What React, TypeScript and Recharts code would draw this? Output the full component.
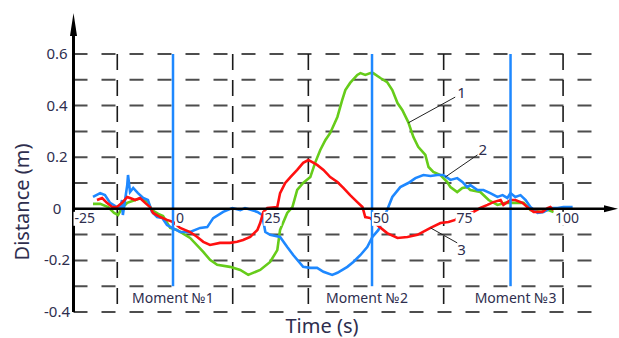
import React from 'react';
import { LineChart, Line, XAxis, YAxis, ReferenceLine, LabelList } from 'recharts';

const FONT = '"Noto Sans", "DejaVu Sans", sans-serif';
const TEXT = '#2e2e4e';
const GREEN = '#66cc1a';
const BLUE = '#1e88ff';
const RED = '#ff1010';

// Axis ranges and ticks
const timeDomain: [number, number] = [-25, 111.8];
const distanceDomain: [number, number] = [-0.4, 0.759];
const timeTicks = [-25, 0, 25, 50, 75, 100];
const distanceTicks = [-0.4, -0.2, 0, 0.2, 0.4, 0.6];
const distanceGrid = [-0.4, -0.3, -0.2, -0.1, 0.1, 0.2, 0.3, 0.4, 0.5, 0.6];
const timeGrid = [-14, 15, 34, 68, 98];
const gridRight = 106.2;

// Event markers
const momentTimes = [0, 50, 84.8];
const momentNames = ['Moment №1', 'Moment №2', 'Moment №3'];

// Curve 1 (green): [time s, distance m]
const curve1: [number, number][] = [
  [-20.1, 0.019], [-18.3, 0.019], [-16.3, 0.007], [-14.8, -0.016], [-13.8, -0.024], [-12.8, 0.003],
  [-11.5, 0.023], [-9.5, 0.034], [-7.8, 0.042], [-6.3, 0.026], [-5.3, -0.005], [-3.7, -0.02],
  [-2.5, -0.028], [-0.7, -0.074], [1.0, -0.082], [4.3, -0.113], [7.6, -0.167], [9.3, -0.198],
  [11.1, -0.217], [14.3, -0.225], [16.9, -0.237], [18.9, -0.256], [21.9, -0.237], [24.4, -0.206],
  [26.2, -0.16], [26.9, -0.082], [28.7, -0.016], [30.0, 0.007], [31.2, 0.073], [32.7, 0.1],
  [34.5, 0.123], [35.7, 0.178], [37.0, 0.228], [38.3, 0.267], [39.5, 0.294], [41.3, 0.356],
  [42.5, 0.421], [43.3, 0.46], [44.5, 0.488], [46.3, 0.519], [47.1, 0.526], [48.3, 0.519],
  [49.6, 0.526], [50.3, 0.526], [52.1, 0.507], [53.8, 0.491], [55.1, 0.46], [56.4, 0.41],
  [57.6, 0.383], [59.1, 0.336], [60.4, 0.278], [61.6, 0.24], [63.4, 0.209], [64.2, 0.162],
  [65.4, 0.143], [67.2, 0.131], [68.9, 0.104], [69.7, 0.084], [71.4, 0.065], [72.7, 0.081],
  [73.9, 0.084], [74.7, 0.073], [77.2, 0.065], [79.3, 0.034], [81.5, 0.015], [83.5, 0.023],
  [85.5, 0.023], [88.1, 0.023], [89.8, -0.005], [92.3, -0.012], [94.3, -0.005], [95.6, -0.012],
];

// Curve 2 (blue)
const curve2: [number, number][] = [
  [-20.1, 0.046], [-18.3, 0.061], [-17.1, 0.053], [-15.8, 0.023], [-14.1, 0.007], [-13.3, 0.003],
  [-12.8, 0.034], [-12.6, -0.024], [-11.5, 0.092], [-11.3, 0.131], [-10.8, 0.065], [-10.0, 0.081],
  [-8.8, 0.061], [-7.5, 0.042], [-6.3, 0.034], [-5.3, -0.012], [-4.0, -0.032], [-2.7, -0.036],
  [-1.5, -0.063], [-0.2, -0.074], [1.8, -0.09], [4.3, -0.09], [6.8, -0.074], [8.6, -0.071],
  [10.1, -0.036], [12.6, -0.012], [14.9, 0.003], [16.9, -0.005], [18.1, 0.003], [21.2, -0.012],
  [22.4, -0.024], [23.2, -0.09], [24.4, -0.101], [26.9, -0.109], [28.7, -0.148], [30.2, -0.179],
  [32.7, -0.225], [34.5, -0.229], [36.2, -0.229], [37.8, -0.244], [40.0, -0.256], [41.3, -0.248],
  [43.8, -0.225], [45.3, -0.206], [47.1, -0.179], [48.8, -0.148], [50.1, -0.109], [51.6, -0.082],
  [53.8, -0.005], [55.1, 0.046], [57.1, 0.084], [59.1, 0.1], [60.9, 0.119], [62.9, 0.131],
  [64.7, 0.127], [66.4, 0.131], [67.9, 0.131], [69.7, 0.112], [71.4, 0.119], [72.7, 0.104],
  [73.9, 0.084], [74.7, 0.092], [76.5, 0.073], [78.0, 0.073], [79.7, 0.061], [81.5, 0.046],
  [82.8, 0.053], [84.0, 0.042], [84.8, 0.061], [86.0, 0.046], [87.3, 0.053], [88.6, 0.034],
  [89.8, 0.007], [91.6, -0.016], [93.1, -0.012], [94.8, 0.003], [96.6, 0.003], [98.1, 0.007],
  [100.4, 0.007],
];

// Curve 3 (red)
const curve3: [number, number][] = [
  [-19.1, 0.034], [-17.8, 0.042], [-16.6, 0.023], [-15.3, 0.007], [-14.1, 0.007], [-12.8, 0.023],
  [-11.5, 0.046], [-10.8, 0.042], [-9.5, 0.034], [-8.3, 0.042], [-7.0, 0.023], [-5.8, 0.007],
  [-5.0, -0.016], [-3.2, -0.032], [-1.5, -0.043], [0, -0.051], [1.8, -0.074], [4.3, -0.09],
  [6.1, -0.109], [7.6, -0.128], [9.3, -0.14], [11.8, -0.132], [14.3, -0.132], [16.1, -0.128],
  [17.6, -0.121], [19.4, -0.109], [21.2, -0.082], [21.9, -0.055], [22.7, -0.012], [23.7, 0.003],
  [26.2, 0.007], [26.9, 0.061], [28.2, 0.1], [29.5, 0.123], [31.2, 0.151], [32.7, 0.178],
  [34.0, 0.189], [35.0, 0.181], [36.2, 0.17], [37.8, 0.151], [39.5, 0.123], [41.3, 0.104],
  [42.8, 0.081], [44.5, 0.053], [46.3, 0.026], [47.6, 0.007], [48.3, -0.032], [49.6, -0.036],
  [51.3, -0.063], [53.8, -0.094], [56.4, -0.113], [58.9, -0.109], [61.4, -0.101], [64.7, -0.074],
  [67.2, -0.055], [69.2, -0.051], [70.9, -0.043], [71.4, -0.036], [75.5, -0.012], [77.2, 0.003],
  [79.0, 0.015], [80.5, 0.026], [82.3, 0.034], [83.0, 0.015], [84.8, 0.034], [86.0, 0.034],
  [87.8, 0.023], [89.3, 0.003], [90.6, -0.012], [92.8, -0.012], [94.1, 0.003], [94.8, 0.007],
  [95.6, -0.005],
];

// Numbered callouts: leader line from a point on the curve to the number
const calloutNames = ['1', '2', '3'];
const calloutFrom: [number, number][] = [[59.1, 0.333], [68.4, 0.123], [64.7, -0.074]];
const calloutTo: [number, number][] = [[70.9, 0.433], [76.5, 0.209], [71.4, -0.132]];
const calloutTextShift: [number, number][] = [[2, 1], [1, 0], [0, 12]];

const momentTextShift = [0, -5, 5];
const tickAnchor: Record<number, { anchor: 'start' | 'middle' | 'end'; dx: number }> = {
  [-25]: { anchor: 'start', dx: 1 },
  0: { anchor: 'start', dx: 3 },
  25: { anchor: 'middle', dx: 0 },
  50: { anchor: 'start', dx: 1 },
  75: { anchor: 'end', dx: 1 },
  100: { anchor: 'middle', dx: -4 },
};

const toRows = (pts: [number, number][]) => pts.map(([t, d]) => ({ t, d }));
const tickRows = timeTicks.map((t) => ({ t, d: 0 }));

const labelWidth = (s: string) => s.split('').reduce((w, c) => w + (c === '-' ? 4.6 : 8), 0);

const TimeTickLabel = (p: any) => {
  const x = p.x ?? p.viewBox?.x;
  const y = p.y ?? p.viewBox?.y;
  const text = String(p.value);
  const cfg = tickAnchor[p.value] ?? { anchor: 'middle', dx: 0 };
  const w = labelWidth(text) + 2;
  const tx = x + cfg.dx;
  const left = cfg.anchor === 'start' ? tx - 1 : cfg.anchor === 'end' ? tx - w + 1 : tx - w / 2;
  return (
    <g>
      <rect x={left} y={y + 3} width={w} height={14} fill="#ffffff" />
      <text x={tx} y={y + 14} textAnchor={cfg.anchor} fontSize={14} fill={TEXT} fontFamily={FONT}>
        {text}
      </text>
    </g>
  );
};

const DistanceTick = (p: any) => (
  <text x={p.x - 16.5} y={p.y + 5} textAnchor="middle" fontSize={15} fill={TEXT} fontFamily={FONT}>
    {String(p.payload.value)}
  </text>
);

const AxisArrowY = (p: any) => (
  <g>
    <line x1={p.x1} y1={p.y1} x2={p.x2} y2={p.y2 + 12} stroke="#000" strokeWidth={3} />
    <polygon points={`${p.x2},${p.y2} ${p.x2 - 3.5},${p.y2 + 23} ${p.x2 + 3.5},${p.y2 + 23}`} fill="#000" />
  </g>
);

const AxisArrowX = (p: any) => (
  <g>
    <line x1={p.x1} y1={p.y1} x2={p.x2 - 8} y2={p.y2} stroke="#000" strokeWidth={2.5} />
    <polygon points={`${p.x2},${p.y2} ${p.x2 - 14},${p.y2 - 3.5} ${p.x2 - 14},${p.y2 + 3.5}`} fill="#000" />
  </g>
);

const momentShape = (name: string, shift: number) => (p: any) => (
  <g>
    <line x1={p.x1} y1={p.y1} x2={p.x2} y2={p.y2} stroke={BLUE} strokeWidth={2.5} />
    <text
      x={Math.max(p.x1, p.x2) + shift}
      y={Math.max(p.y1, p.y2) + 17}
      textAnchor="middle"
      fontSize={14}
      fill={TEXT}
      fontFamily={FONT}
    >
      {name}
    </text>
  </g>
);

const calloutShape = (name: string, shift: [number, number]) => (p: any) => (
  <g>
    <line x1={p.x1} y1={p.y1} x2={p.x2} y2={p.y2} stroke="#222" strokeWidth={1} />
    <text x={p.x2 + shift[0]} y={p.y2 + shift[1]} fontSize={15} fill={TEXT} fontFamily={FONT}>
      {name}
    </text>
  </g>
);

export default function App() {
  return (
    <div style={{ position: 'absolute', left: 0, top: 0, background: '#fff' }}>
      <LineChart width={619} height={338} margin={{ top: 13, right: 1, bottom: 26, left: 0 }}>
        <XAxis type="number" dataKey="t" domain={timeDomain} allowDataOverflow hide />
        <YAxis
          type="number"
          domain={distanceDomain}
          ticks={distanceTicks}
          interval={0}
          allowDataOverflow
          width={73.5}
          axisLine={false}
          tickLine={false}
          tickSize={0}
          tickMargin={0}
          tick={DistanceTick}
          label={() => (
            <text
              x={29}
              y={202}
              transform="rotate(-90, 29, 202)"
              textAnchor="middle"
              fontSize={20}
              fill={TEXT}
              fontFamily={FONT}
            >
              Distance (m)
            </text>
          )}
        />

        {distanceGrid.map((v) => (
          <ReferenceLine
            key={`h${v}`}
            segment={[{ x: timeDomain[0], y: v }, { x: gridRight, y: v }]}
            stroke="#4d4d4d"
            strokeWidth={2}
            strokeDasharray="14 14"
            ifOverflow="visible"
          />
        ))}
        {timeGrid.map((t) => (
          <ReferenceLine
            key={`v${t}`}
            segment={[{ x: t, y: 0.6 }, { x: t, y: -0.4 }]}
            stroke="#1a1a1a"
            strokeWidth={1.6}
            strokeDasharray="16 10"
            ifOverflow="visible"
          />
        ))}

        <Line data={toRows(curve1)} dataKey="d" stroke={GREEN} strokeWidth={2.6} dot={false} activeDot={false} isAnimationActive={false} />
        <Line data={toRows(curve2)} dataKey="d" stroke={BLUE} strokeWidth={2.6} dot={false} activeDot={false} isAnimationActive={false} />
        <Line data={toRows(curve3)} dataKey="d" stroke={RED} strokeWidth={2.6} dot={false} activeDot={false} isAnimationActive={false} />

        {momentTimes.map((t, i) => (
          <ReferenceLine
            key={`m${t}`}
            segment={[{ x: t, y: 0.6 }, { x: t, y: -0.3 }]}
            ifOverflow="visible"
            shape={momentShape(momentNames[i], momentTextShift[i])}
          />
        ))}

        <ReferenceLine
          segment={[{ x: timeDomain[0], y: distanceDomain[0] }, { x: timeDomain[0], y: distanceDomain[1] }]}
          ifOverflow="visible"
          shape={AxisArrowY}
        />
        <ReferenceLine
          segment={[{ x: timeDomain[0], y: 0 }, { x: timeDomain[1], y: 0 }]}
          ifOverflow="visible"
          shape={AxisArrowX}
        />

        {calloutNames.map((n, i) => (
          <ReferenceLine
            key={`c${n}`}
            segment={[{ x: calloutFrom[i][0], y: calloutFrom[i][1] }, { x: calloutTo[i][0], y: calloutTo[i][1] }]}
            ifOverflow="visible"
            shape={calloutShape(n, calloutTextShift[i])}
          />
        ))}

        <Line data={tickRows} dataKey="d" stroke="none" dot={false} activeDot={false} isAnimationActive={false}>
          <LabelList dataKey="t" content={TimeTickLabel} />
        </Line>

        <text x={322} y={333} textAnchor="middle" fontSize={20} fill={TEXT} fontFamily={FONT}>
          Time (s)
        </text>
      </LineChart>
    </div>
  );
}
